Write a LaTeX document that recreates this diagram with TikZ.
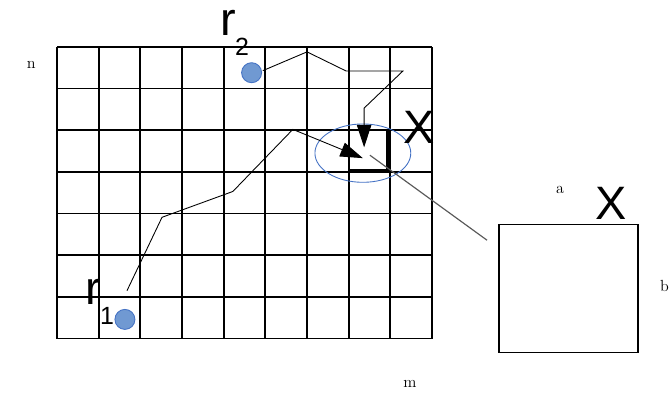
\documentclass[tikz,border=0pt]{standalone}
\usepackage{fontspec}
\newfontfamily\arialfont{Liberation Sans}
\usetikzlibrary{arrows.meta,positioning,shapes.geometric}
\definecolor{dotfill}{RGB}{112,153,210}
\definecolor{dotline}{RGB}{68,114,196}

\begin{document}
\begin{tikzpicture}[>={Triangle[length=5.4mm,width=3.5mm]},every node/.style={inner sep=0pt},
  robot/.style={circle,fill=dotfill,draw=dotline,line width=0.6pt,minimum size=4.8mm},
  biglabel/.style={font=\arialfont\fontsize{32}{34}\selectfont},
  sublabel/.style={font=\arialfont\fontsize{17}{19}\selectfont},
  dimlabel/.style={font=\fontsize{11}{13}\selectfont},
  route/.style={line width=0.6pt}]
\useasboundingbox (-1.368,-1.322) rectangle (14.735,8.125);
\draw[line width=1.2pt] (0,0) grid (9,7);
% target cell and the close-up
\draw[line width=1.6pt] (7,4.05) -- (7.93,4.05) -- (7.93,5);
\node[ellipse,draw=dotline,line width=0.6pt,minimum width=2.3cm,minimum height=1.4cm] (focus) at (7.34,4.45) {};
\node[draw,line width=1pt,minimum width=3.33cm,minimum height=3.08cm] (zoombox) at (12.275,1.2) {};
\coordinate (lenstart) at (7.51,4.40);
\coordinate (lenend) at (10.32,2.36);
\draw[gray!70!black,line width=0.8pt] (lenstart) -- (lenend);
% robots
\node[robot] (r1) at (1.63,0.46) {};
\node[robot] (r2) at (4.67,6.38) {};
\node[biglabel] (r1name) at (0.86,1.13) {r};
\node[sublabel] (r1sub) at (1.2,0.55) {1};
\node[biglabel] (r2name) at (4.10,7.57) {r};
\node[sublabel] (r2sub) at (4.44,7.0) {2};
\node[biglabel] (cellx) at (8.69,5.07) {X};
\node[biglabel] (boxx) at (13.30,3.25) {X};
% routes
\coordinate (p1) at (1.68,1.15);
\coordinate (p2) at (2.52,2.91);
\coordinate (p3) at (4.22,3.53);
\coordinate (p4) at (5.66,5.02);
\coordinate (t1) at (7.34,4.33);
\draw[route,->] (p1) -- (p2) -- (p3) -- (p4) -- (t1);
\coordinate (q1) at (6.0,6.88);
\coordinate (q2) at (6.94,6.42);
\coordinate (q3) at (8.30,6.42);
\coordinate (q4) at (7.37,5.53);
\coordinate (t2) at (7.37,4.59);
\draw[route,->] (r2.east) ++(0.02,0.05) -- (q1) -- (q2) -- (q3) -- (q4) -- (t2);
% dimensions
\node[dimlabel] (dimn) at (-0.62,6.56) {n};
\node[dimlabel] (dimm) at (8.47,-1.08) {m};
\node[dimlabel] (dima) at (12.07,3.56) {a};
\node[dimlabel] (dimb) at (14.58,1.27) {b};
\end{tikzpicture}
\end{document}
